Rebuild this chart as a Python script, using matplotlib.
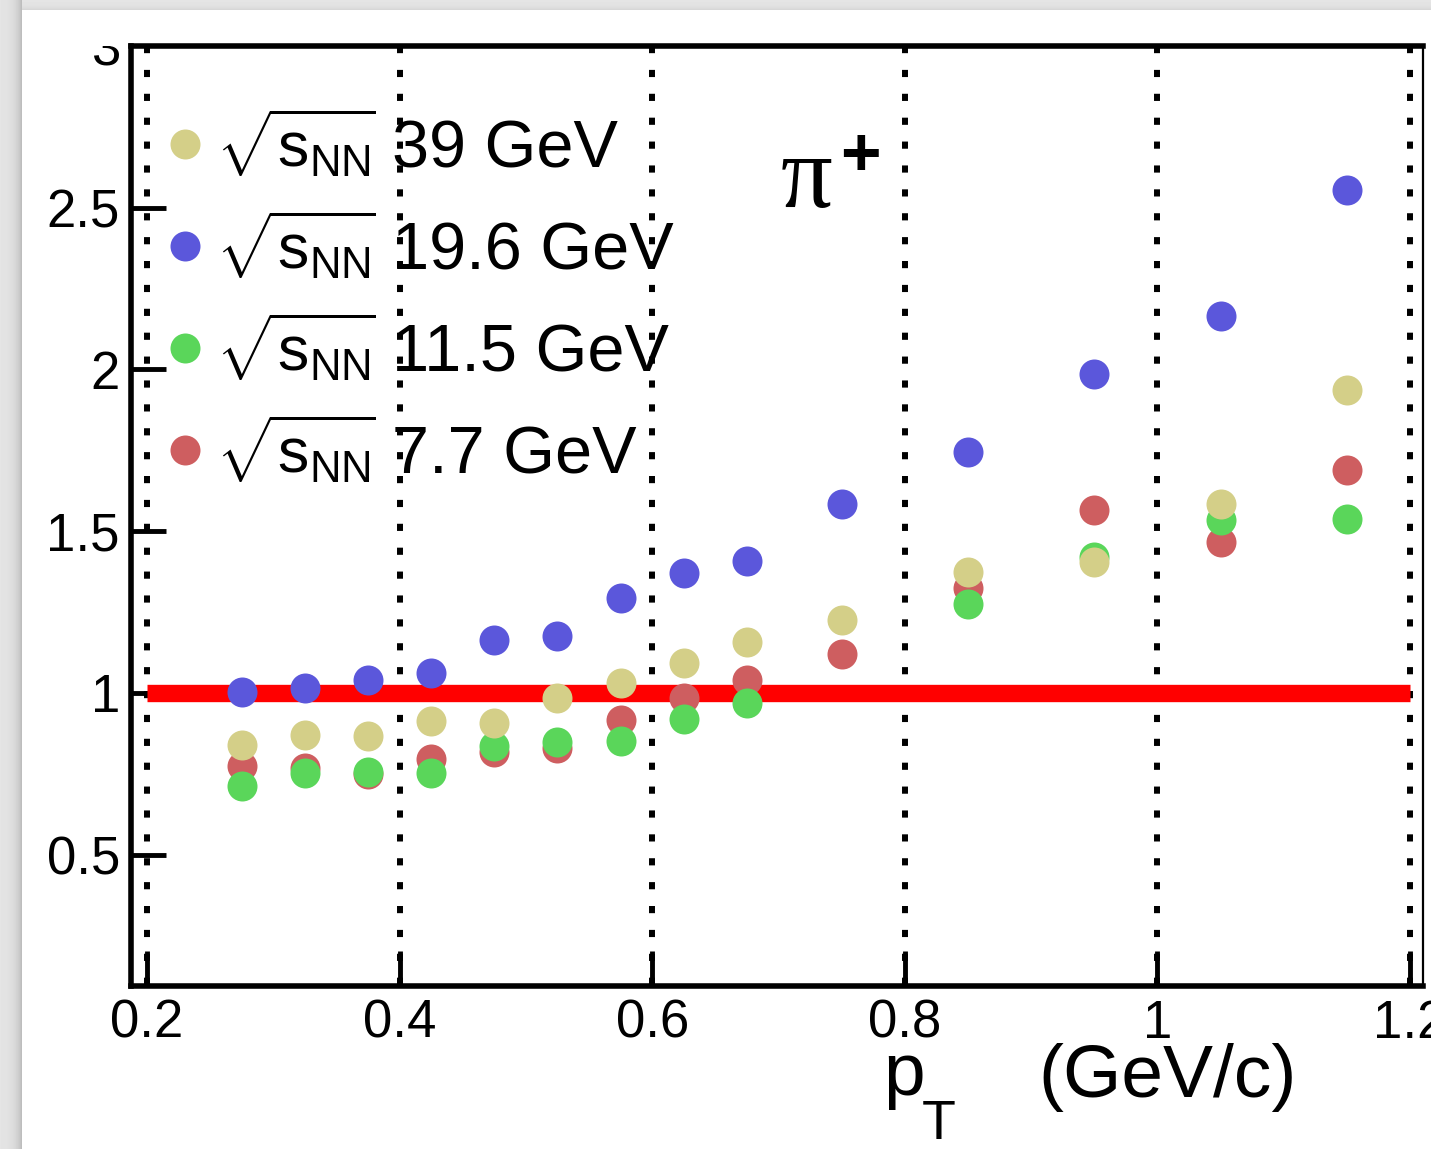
import numpy as np
import matplotlib
matplotlib.use("Agg")
import matplotlib.pyplot as plt
from matplotlib.transforms import Bbox, TransformedBbox, IdentityTransform, blended_transform_factory

# ---- DATA ----
pt = [0.275, 0.325, 0.375, 0.425, 0.475, 0.525, 0.575, 0.625, 0.675, 0.75, 0.85, 0.95, 1.05, 1.15]

ratio_39 = [0.839, 0.870, 0.867, 0.913, 0.907, 0.985, 1.031, 1.093, 1.158, 1.226, 1.374, 1.405, 1.584, 1.937]
ratio_19p6 = [1.003, 1.015, 1.040, 1.062, 1.164, 1.176, 1.294, 1.371, 1.408, 1.584, 1.745, 1.986, 2.166, 2.555]
ratio_11p5 = [0.712, 0.753, 0.756, 0.753, 0.836, 0.848, 0.852, 0.920, 0.969, np.nan, 1.275, 1.421, 1.535, 1.538]
ratio_7p7 = [0.774, 0.768, 0.750, 0.796, 0.818, 0.830, 0.917, 0.985, 1.040, 1.121, 1.325, 1.566, 1.467, 1.690]

energies = ["39", "19.6", "11.5", "7.7"]
colors = {"39": "#d4cf88", "19.6": "#5b57db", "11.5": "#5ad65a", "7.7": "#ce5e60"}
sqrt_label = r"$\sqrt{\mathrm{s}_{\mathrm{NN}}\!}$"

xticks = [0.2, 0.4, 0.6, 0.8, 1.0, 1.2]
xtick_labels = ["0.2", "0.4", "0.6", "0.8", "1", "1.2"]
yticks = [0.5, 1.0, 1.5, 2.0, 2.5]
ytick_labels = ["0.5", "1", "1.5", "2", "2.5"]
ytop_label = "3"


def main():
    # ---- CONFIG ----
    W, H = 1431, 1149
    plt.rcParams["font.family"] = ["Liberation Sans", "DejaVu Sans"]
    plt.rcParams["mathtext.fontset"] = "custom"
    plt.rcParams["mathtext.rm"] = "Liberation Sans"
    plt.rcParams["mathtext.sf"] = "Liberation Sans"
    plt.rcParams["mathtext.it"] = "Liberation Sans:italic"

    fig = plt.figure(figsize=(W / 100, H / 100), dpi=100)

    # ---- BACKGROUND (page on grey screenshot) ----
    bg = np.full((H, W), 0.89)
    cols = np.arange(22)
    bg[:, :22] = 0.90 - 0.16 * np.exp(-(21 - cols) / 6.0)
    rows = np.arange(10)
    bg[:10, 22:] = (0.90 - 0.06 * np.exp(-(9 - rows) / 3.0))[:, None]
    bg[10:, 22:] = 1.0
    fig.figimage(bg, xo=0, yo=0, cmap="gray", vmin=0, vmax=1, zorder=-10)

    ax = fig.add_axes([131 / W, 1 - 986 / H, (1423 - 131) / W, (986 - 46) / H])
    ax.set_facecolor("white")
    ax.set_xlim(0.1873, 1.2103)
    ax.set_ylim(0.094, 3.0)

    # ---- GRID / REFERENCE ----
    for x in xticks:
        ax.plot([x, x], [3.0, 0.094], color="black", lw=4.3,
                linestyle=(0, (1.2, 2.8)), zorder=1)
    ax.hlines(1.0, 0.2, 1.2, color="red", lw=12.5, zorder=2)

    # ---- POINTS ----
    series = {"39": ratio_39, "19.6": ratio_19p6, "11.5": ratio_11p5, "7.7": ratio_7p7}
    zorders = {"7.7": 3, "11.5": 4, "39": 5, "19.6": 6}
    handles = {}
    for e in energies:
        h, = ax.plot(pt, series[e], "o", ms=21.6, mew=0, color=colors[e], zorder=zorders[e])
        handles[e] = h

    leg = ax.legend([handles[e] for e in energies], [e + " GeV" for e in energies],
                    loc="upper left", bbox_to_anchor=(0.0289, 0.9223),
                    frameon=False, fontsize=48, handlelength=0.5, handletextpad=2.855,
                    labelspacing=0.60, borderpad=0, borderaxespad=0)
    leg.set_zorder(7)

    # ---- AXES STYLE ----
    for side in ["left", "bottom", "top"]:
        ax.spines[side].set_linewidth(4.0)
    ax.spines["right"].set_linewidth(1.6)

    ax.set_xticks(xticks)
    ax.set_xticklabels(xtick_labels)
    ax.set_yticks(yticks)
    ax.set_yticklabels(ytick_labels)
    ax.tick_params(axis="both", direction="in", length=25, width=3.5, labelsize=38)
    ax.tick_params(axis="x", pad=9)
    ax.tick_params(axis="y", pad=8)
    ax.minorticks_off()

    # clipped "3" label at the top of the y axis
    t3 = fig.text(-0.0085, 3.0, ytop_label, fontsize=38, ha="right", va="center_baseline",
                  transform=blended_transform_factory(ax.transAxes, ax.transData))
    t3.set_clip_on(True)
    t3.set_clip_box(TransformedBbox(Bbox([[0, 0], [1, 1 - 46 / H]]), fig.transFigure))

    # ---- LABELS ----
    fig.text(781 / W, 1 - 207 / H, "\u03c0", family="Liberation Serif", fontsize=74,
             ha="left", va="baseline")
    fig.text(840 / W, 1 - 175 / H, "+", fontsize=50, fontweight="bold",
             ha="left", va="baseline")

    fig.text(883 / W, 1 - 1095 / H, "p", fontsize=54, ha="left", va="baseline")
    fig.text(922 / W, 1 - 1139 / H, "T", fontsize=40, ha="left", va="baseline")
    fig.text(1038 / W, 1 - 1097 / H, "(GeV/c)", fontsize=54, ha="left", va="baseline")

    # sqrt(s_NN) in front of each legend entry, aligned on the label baseline
    fig.canvas.draw()
    for t in leg.get_texts():
        x0, y0 = t.get_transform().transform(t.get_position())
        fig.text(x0 - 17, y0, sqrt_label, fontsize=45, ha="right", va="baseline",
                 transform=IdentityTransform(), zorder=8)

    fig.savefig("out.png", dpi=100)


if __name__ == "__main__":
    main()
